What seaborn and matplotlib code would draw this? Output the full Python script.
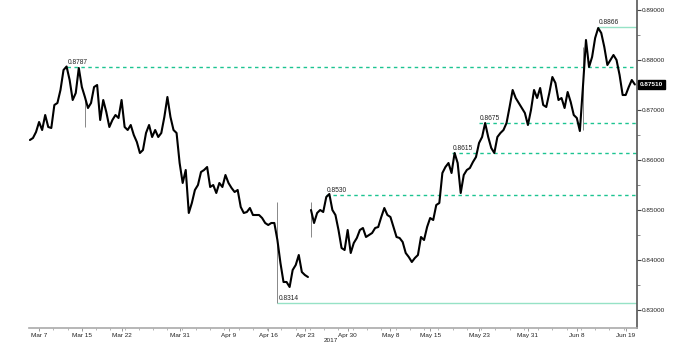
import matplotlib
matplotlib.use("Agg")
import matplotlib.pyplot as plt
import seaborn as sns
import pandas as pd
from matplotlib.ticker import FixedLocator, AutoMinorLocator, MultipleLocator, FormatStrFormatter

close_before_gap = [
    0.8640, 0.8644, 0.8656, 0.8676, 0.8660, 0.8690, 0.8666, 0.8664, 0.8710, 0.8714,
    0.8740, 0.8780, 0.8787, 0.8760, 0.8720, 0.8734, 0.8784, 0.8746, 0.8726, 0.8704,
    0.8714, 0.8746, 0.8750, 0.8680, 0.8720, 0.8696, 0.8666, 0.8680, 0.8690, 0.8684,
    0.8720, 0.8666, 0.8660, 0.8670, 0.8650, 0.8636, 0.8614, 0.8620, 0.8654, 0.8670,
    0.8646, 0.8660, 0.8646, 0.8654, 0.8686, 0.8726, 0.8686, 0.8660, 0.8654, 0.8594,
    0.8554, 0.8580, 0.8494, 0.8514, 0.8540, 0.8550, 0.8576, 0.8580, 0.8586, 0.8546,
    0.8550, 0.8534, 0.8554, 0.8546, 0.8570, 0.8554, 0.8544, 0.8536, 0.8540, 0.8506,
    0.8494, 0.8496, 0.8504, 0.8490, 0.8490, 0.8490, 0.8484, 0.8474, 0.8470, 0.8474,
    0.8474, 0.8440, 0.8394, 0.8356, 0.8356, 0.8346, 0.8380, 0.8390, 0.8410, 0.8376,
    0.8370, 0.8366,
]
close_after_gap = [
    0.8500, 0.8474, 0.8494, 0.8500, 0.8496, 0.8526, 0.8532,
    0.8500, 0.8490, 0.8460, 0.8424, 0.8420, 0.8460, 0.8414, 0.8434, 0.8444, 0.8460,
    0.8464, 0.8446, 0.8450, 0.8454, 0.8464, 0.8466, 0.8486, 0.8504, 0.8490, 0.8486,
    0.8466, 0.8446, 0.8444, 0.8436, 0.8414, 0.8406, 0.8396, 0.8404, 0.8410, 0.8446,
    0.8440, 0.8466, 0.8484, 0.8480, 0.8510, 0.8514, 0.8574, 0.8586, 0.8594, 0.8574,
    0.8614, 0.8594, 0.8534, 0.8570, 0.8580, 0.8584, 0.8596, 0.8606, 0.8634, 0.8646,
    0.8674, 0.8646, 0.8624, 0.8614, 0.8646, 0.8654, 0.8660, 0.8674, 0.8706, 0.8740,
    0.8724, 0.8714, 0.8704, 0.8694, 0.8670, 0.8700, 0.8740, 0.8724, 0.8744, 0.8710,
    0.8706, 0.8734, 0.8766, 0.8754, 0.8720, 0.8724, 0.8704, 0.8736, 0.8716, 0.8690,
    0.8684, 0.8658, 0.8746, 0.8840, 0.8786, 0.8806, 0.8844, 0.8864, 0.8854, 0.8826,
    0.8790, 0.8800, 0.8810, 0.8800, 0.8770, 0.8730, 0.8730, 0.8746, 0.8760, 0.8751,
]

# long wicks worth showing
wick_bar = [18, 81, 92, 181]
wick_lo = [0.8666, 0.8314, 0.8446, 0.8660]
wick_hi = [0.8726, 0.8516, 0.8516, 0.8826]

# marked levels and the bar where each one was set
level_vals = [0.8866, 0.8787, 0.8675, 0.8615, 0.8530, 0.8314]
level_bar = [186, 12, 147, 138, 97, 81]
level_dashed = [False, True, True, True, True, False]

tick_bars = [3, 17, 30, 49, 65, 78, 90, 104, 118, 131, 147, 163, 179, 195]
tick_labels = ["Mar 7", "Mar 15", "Mar 22", "Mar 31", "Apr 9", "Apr 16", "Apr 23",
               "Apr 30", "May 8", "May 15", "May 23", "May 31", "Jun 8", "Jun 19"]
last_price = 0.8751

n1, n2 = len(close_before_gap), len(close_after_gap)
df = pd.DataFrame({
    "bar": range(n1 + n2),
    "close": close_before_gap + close_after_gap,
    "seg": [0] * n1 + [1] * n2,
})

sns.set_theme(style="white")
plt.rcParams["font.family"] = ["Liberation Sans", "DejaVu Sans"]

fig = plt.figure(figsize=(6.77, 3.52), dpi=100)
ax = fig.add_axes([29 / 677, 24 / 352, 608 / 677, 328 / 352])

x_left, x_right = -0.3, 198.7
ax.set_xlim(x_left, x_right)
ax.set_ylim(0.8264, 0.8920)

# level lines
green = "#1cc491"
for val, start, dashed in zip(level_vals, level_bar, level_dashed):
    if dashed:
        ax.hlines(val, start, x_right, colors=green, linestyles=(0, (2.5, 2.5)), lw=1.0, zorder=1)
    else:
        ax.hlines(val, start, x_right, colors="#96e2c6", lw=1.0, zorder=1)
    ax.text(start + 0.3, val + 0.0001, f"{val:.4f}", fontsize=4.8, color="#222222",
            ha="left", va="bottom", zorder=4)

ax.vlines(wick_bar, wick_lo, wick_hi, colors="#888888", lw=0.7, zorder=2)
sns.lineplot(data=df, x="bar", y="close", units="seg", estimator=None,
             color="black", lw=1.5, ax=ax, zorder=3)

# axes styling
ax.yaxis.tick_right()
ax.yaxis.set_label_position("right")
ax.yaxis.set_major_locator(MultipleLocator(0.01))
ax.yaxis.set_minor_locator(MultipleLocator(0.005))
ax.yaxis.set_major_formatter(FormatStrFormatter("%.5f"))
ax.xaxis.set_major_locator(FixedLocator(tick_bars))
ax.set_xticklabels(tick_labels)
ax.xaxis.set_minor_locator(AutoMinorLocator(3))
ax.tick_params(axis="y", which="major", right=True, length=3, width=0.8, color="#444444",
               labelsize=4.6, labelcolor="#222222", pad=0.5)
ax.tick_params(axis="y", which="minor", right=True, length=2, width=0.6, color="#777777")
ax.tick_params(axis="x", which="major", bottom=True, length=2, width=0.6, color="#888888",
               labelsize=4.6, labelcolor="#222222", pad=1.5)
ax.tick_params(axis="x", which="minor", bottom=True, length=1.5, width=0.5, color="#999999")
ax.set_xlabel("")
ax.set_ylabel("")

for side in ["top", "left"]:
    ax.spines[side].set_visible(False)
ax.spines["right"].set_color("#555555")
ax.spines["right"].set_linewidth(1.2)
ax.spines["bottom"].set_color("#aaaaaa")
ax.spines["bottom"].set_linewidth(1.2)

# last price tag
ax.annotate(f"{last_price:.5f}", xy=(1, last_price), xycoords=("axes fraction", "data"),
            xytext=(2, 0), textcoords="offset points", ha="left", va="center",
            fontsize=4.6, color="white", fontweight="bold",
            bbox=dict(boxstyle="square,pad=0.25", fc="black", ec="black"))

fig.text(331 / 677, 1 - 340 / 352, "2017", ha="center", va="center", fontsize=4.6, color="#222222")

plt.savefig("out.png", dpi=100)
